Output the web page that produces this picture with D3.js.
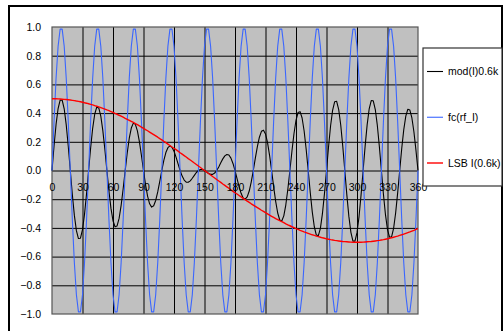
<!DOCTYPE html>
<html>
<head>
<meta charset="utf-8">
<script src="https://cdn.jsdelivr.net/npm/d3@7"></script>
<style>
  html, body { margin: 0; padding: 0; background: #fff; }
  svg { display: block; }
  text { font-family: "Liberation Sans", Arial, sans-serif; font-size: 10.5px; fill: #000; }
</style>
</head>
<body>
<script>
// Phase angle in degrees (sample points shared by every series)
const degrees = [
  0,2,4,6,8,10,12,14,16,18,20,22,24,26,28,30,32,34,36,38,
  40,42,44,46,48,50,52,54,56,58,60,62,64,66,68,70,72,74,76,78,
  80,82,84,86,88,90,92,94,96,98,100,102,104,106,108,110,112,114,116,118,
  120,122,124,126,128,130,132,134,136,138,140,142,144,146,148,150,152,154,156,158,
  160,162,164,166,168,170,172,174,176,178,180,182,184,186,188,190,192,194,196,198,
  200,202,204,206,208,210,212,214,216,218,220,222,224,226,228,230,232,234,236,238,
  240,242,244,246,248,250,252,254,256,258,260,262,264,266,268,270,272,274,276,278,
  280,282,284,286,288,290,292,294,296,298,300,302,304,306,308,310,312,314,316,318,
  320,322,324,326,328,330,332,334,336,338,340,342,344,346,348,350,352,354,356,358,
  360
];

// mod(I)0.6k
const modI = [
  0,0.171,0.321,0.432,0.491,0.490,0.430,0.318,0.169,0,
  -0.167,-0.313,-0.419,-0.474,-0.472,-0.412,-0.304,-0.160,0,0.158,
  0.294,0.392,0.441,0.436,0.379,0.278,0.146,0,-0.142,-0.264,
  -0.350,-0.392,-0.386,-0.334,-0.243,-0.127,0,0.122,0.225,0.296,
  0.330,0.322,0.276,0.200,0.103,0,-0.098,-0.178,-0.232,-0.255,
  -0.246,-0.209,-0.149,-0.076,0,0.070,0.125,0.159,0.172,0.162,
  0.134,0.093,0.046,0,-0.039,-0.067,-0.081,-0.082,-0.072,-0.054,
  -0.034,-0.014,0,0.007,0.007,0,-0.010,-0.021,-0.027,-0.027,
  -0.018,0,0.025,0.054,0.081,0.102,0.112,0.108,0.086,0.049,
  0,-0.056,-0.112,-0.159,-0.191,-0.200,-0.184,-0.143,-0.079,0,
  0.086,0.167,0.232,0.273,0.281,0.255,0.194,0.106,0,-0.112,
  -0.215,-0.296,-0.345,-0.352,-0.316,-0.239,-0.129,0,0.134,0.256,
  0.350,0.404,0.410,0.366,0.275,0.148,0,-0.152,-0.288,-0.392,
  -0.450,-0.454,-0.403,-0.301,-0.161,0,0.164,0.310,0.419,0.479,
  0.482,0.425,0.317,0.169,0,-0.170,-0.320,-0.431,-0.492,-0.492,
  -0.433,-0.321,-0.171,0,0.170,0.320,0.430,0.487,0.486,0.425,
  0.314,0.166,0,-0.165,-0.308,-0.412,-0.465,-0.462,-0.403,-0.296,
  -0.156,0,0.153,0.285,0.379,0.427,0.421,0.366,0.268,0.140,
  0
];

// fc(rf_I) carrier
const fcRfI = [
  0,0.342,0.643,0.866,0.985,0.985,0.866,0.643,0.342,0,-0.342,-0.643,-0.866,-0.985,-0.985,-0.866,-0.643,-0.342,
  0,0.342,0.643,0.866,0.985,0.985,0.866,0.643,0.342,0,-0.342,-0.643,-0.866,-0.985,-0.985,-0.866,-0.643,-0.342,
  0,0.342,0.643,0.866,0.985,0.985,0.866,0.643,0.342,0,-0.342,-0.643,-0.866,-0.985,-0.985,-0.866,-0.643,-0.342,
  0,0.342,0.643,0.866,0.985,0.985,0.866,0.643,0.342,0,-0.342,-0.643,-0.866,-0.985,-0.985,-0.866,-0.643,-0.342,
  0,0.342,0.643,0.866,0.985,0.985,0.866,0.643,0.342,0,-0.342,-0.643,-0.866,-0.985,-0.985,-0.866,-0.643,-0.342,
  0,0.342,0.643,0.866,0.985,0.985,0.866,0.643,0.342,0,-0.342,-0.643,-0.866,-0.985,-0.985,-0.866,-0.643,-0.342,
  0,0.342,0.643,0.866,0.985,0.985,0.866,0.643,0.342,0,-0.342,-0.643,-0.866,-0.985,-0.985,-0.866,-0.643,-0.342,
  0,0.342,0.643,0.866,0.985,0.985,0.866,0.643,0.342,0,-0.342,-0.643,-0.866,-0.985,-0.985,-0.866,-0.643,-0.342,
  0,0.342,0.643,0.866,0.985,0.985,0.866,0.643,0.342,0,-0.342,-0.643,-0.866,-0.985,-0.985,-0.866,-0.643,-0.342,
  0,0.342,0.643,0.866,0.985,0.985,0.866,0.643,0.342,0,-0.342,-0.643,-0.866,-0.985,-0.985,-0.866,-0.643,-0.342,
  0
];

// LSB I(0.6k)
const lsbI = [
  0.500,0.500,0.500,0.499,0.498,0.497,0.496,0.495,0.493,0.491,
  0.489,0.487,0.484,0.482,0.479,0.476,0.472,0.469,0.465,0.461,
  0.457,0.452,0.448,0.443,0.438,0.433,0.428,0.422,0.417,0.411,
  0.405,0.398,0.392,0.385,0.379,0.372,0.364,0.357,0.350,0.342,
  0.335,0.327,0.319,0.311,0.302,0.294,0.285,0.277,0.268,0.259,
  0.250,0.241,0.232,0.222,0.213,0.203,0.194,0.184,0.174,0.164,
  0.155,0.145,0.135,0.124,0.114,0.104,0.094,0.083,0.073,0.063,
  0.052,0.042,0.031,0.021,0.010,0.000,-0.010,-0.021,-0.031,-0.042,
  -0.052,-0.063,-0.073,-0.083,-0.094,-0.104,-0.114,-0.124,-0.135,-0.145,
  -0.155,-0.164,-0.174,-0.184,-0.194,-0.203,-0.213,-0.222,-0.232,-0.241,
  -0.250,-0.259,-0.268,-0.277,-0.285,-0.294,-0.302,-0.311,-0.319,-0.327,
  -0.335,-0.342,-0.350,-0.357,-0.364,-0.372,-0.379,-0.385,-0.392,-0.398,
  -0.405,-0.411,-0.417,-0.422,-0.428,-0.433,-0.438,-0.443,-0.448,-0.452,
  -0.457,-0.461,-0.465,-0.469,-0.472,-0.476,-0.479,-0.482,-0.484,-0.487,
  -0.489,-0.491,-0.493,-0.495,-0.496,-0.497,-0.498,-0.499,-0.500,-0.500,
  -0.500,-0.500,-0.500,-0.499,-0.498,-0.497,-0.496,-0.495,-0.493,-0.491,
  -0.489,-0.487,-0.484,-0.482,-0.479,-0.476,-0.472,-0.469,-0.465,-0.461,
  -0.457,-0.452,-0.448,-0.443,-0.438,-0.433,-0.428,-0.422,-0.417,-0.411,
  -0.405
];

const xTicks = [0,30,60,90,120,150,180,210,240,270,300,330,360];
const yTicks = [-1.0,-0.8,-0.6,-0.4,-0.2,0.0,0.2,0.4,0.6,0.8,1.0];

const seriesNames = ["mod(I)0.6k", "fc(rf_I)", "LSB I(0.6k)"];
const seriesColors = ["#000000", "#3a66ff", "#ff0000"];
const seriesWidths = [1.1, 1.1, 1.4];

const W = 504, H = 331;
const plot = { left: 52, top: 27, right: 418, bottom: 314 };

const svg = d3.select("body").append("svg").attr("width", W).attr("height", H);

// chart frame
svg.append("rect")
  .attr("x", 9).attr("y", 6).attr("width", 493).attr("height", 340)
  .attr("fill", "#fff").attr("stroke", "#000").attr("stroke-width", 2);

const x = d3.scaleLinear().domain([0, 360]).range([plot.left, plot.right]);
const y = d3.scaleLinear().domain([-1, 1]).range([plot.bottom, plot.top]);

// plot area
svg.append("rect")
  .attr("x", plot.left).attr("y", plot.top)
  .attr("width", plot.right - plot.left).attr("height", plot.bottom - plot.top)
  .attr("fill", "#c0c0c0");

// gridlines
const grid = svg.append("g");
grid.append("g")
  .attr("transform", `translate(0,${plot.bottom})`)
  .call(d3.axisBottom(x).tickValues(xTicks.slice(1, -1)).tickSize(-(plot.bottom - plot.top)).tickFormat(""))
  .call(g => g.select(".domain").remove())
  .call(g => g.selectAll("line").attr("stroke", "#000").attr("stroke-width", 1));
grid.append("g")
  .attr("transform", `translate(${plot.left},0)`)
  .call(d3.axisLeft(y).tickValues(yTicks.slice(1, -1)).tickSize(-(plot.right - plot.left)).tickFormat(""))
  .call(g => g.select(".domain").remove())
  .call(g => g.selectAll("line").attr("stroke", "#000").attr("stroke-width", 1));

// plot border
svg.append("rect")
  .attr("x", plot.left).attr("y", plot.top)
  .attr("width", plot.right - plot.left).attr("height", plot.bottom - plot.top)
  .attr("fill", "none").attr("stroke", "#555").attr("stroke-width", 1.2);

// series
const series = [modI, fcRfI, lsbI];
const line = vals => d3.line()
  .x((d, i) => x(degrees[i]))
  .y(d => y(d))(vals);

series.forEach((vals, i) => {
  svg.append("path")
    .attr("d", line(vals))
    .attr("fill", "none")
    .attr("stroke", seriesColors[i])
    .attr("stroke-width", seriesWidths[i])
    .attr("stroke-linejoin", "round");
});

// y axis labels
svg.append("g")
  .attr("transform", `translate(${plot.left},0)`)
  .call(d3.axisLeft(y).tickValues(yTicks).tickSize(0).tickPadding(11).tickFormat(d3.format(".1f")))
  .call(g => g.select(".domain").remove())
  .call(g => g.selectAll("text").attr("font-family", null).attr("font-size", null));

// x axis labels along the zero line
svg.append("g")
  .attr("transform", `translate(0,${y(0)})`)
  .call(d3.axisBottom(x).tickValues(xTicks).tickSize(0).tickPadding(13).tickFormat(d3.format("d")))
  .call(g => g.select(".domain").remove())
  .call(g => g.selectAll("text").attr("font-family", null).attr("font-size", null));

// legend
const legend = svg.append("g");
legend.append("rect")
  .attr("x", 423).attr("y", 48).attr("width", 79).attr("height", 138)
  .attr("fill", "#fff").attr("stroke", "#333").attr("stroke-width", 1.2);

const legendY = d3.scalePoint().domain(seriesNames).range([71.5, 163]);
seriesNames.forEach((name, i) => {
  const yy = legendY(name);
  legend.append("line")
    .attr("x1", 427).attr("x2", 443).attr("y1", yy).attr("y2", yy)
    .attr("stroke", seriesColors[i]).attr("stroke-width", seriesWidths[i]);
  legend.append("text")
    .attr("x", 448).attr("y", yy).attr("dy", "0.35em")
    .text(name);
});
</script>
</body>
</html>
